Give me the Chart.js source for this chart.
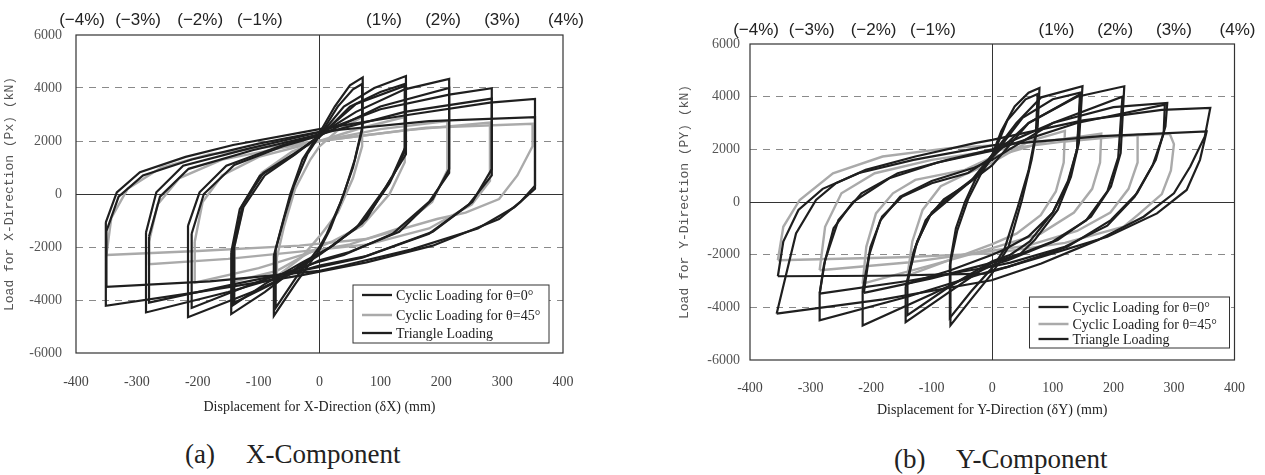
<!DOCTYPE html>
<html>
<head>
<meta charset="utf-8">
<script src="https://cdn.jsdelivr.net/npm/chart.js@4.4.0/dist/chart.umd.min.js"></script>
<style>
  body { margin: 0; background: #fff; width: 1265px; height: 475px; overflow: hidden; position: relative; }
  .box { position: absolute; top: 0; }
  #boxA { left: 0; }
  #boxB { left: 650px; }
  .cap { position: absolute; font-family: "Liberation Serif", serif; font-size: 27px; line-height: 27px; color: #222; white-space: pre; }
</style>
</head>
<body>
<div class="box" id="boxA"><canvas id="chartA" width="600" height="430"></canvas></div>
<div class="box" id="boxB"><canvas id="chartB" width="615" height="430"></canvas></div>
<div class="cap" style="left:185px;top:441px">(a)</div>
<div class="cap" style="left:246px;top:441px">X-Component</div>
<div class="cap" style="left:894px;top:446px">(b)</div>
<div class="cap" style="left:956px;top:446px">Y-Component</div>
<script>
// axis ranges
var xMin = -400, xMax = 400, xStep = 100;
var yMin = -6000, yMax = 6000, yStep = 2000;

// drift ratio labels along the top
var driftLabels = ['(−4%)', '(−3%)', '(−2%)', '(−1%)', '(1%)', '(2%)', '(3%)', '(4%)'];
var driftPos = [-390, -298, -196, -98, 106, 203, 300, 405];

var seriesNames = ['Cyclic Loading for θ=0°', 'Cyclic Loading for θ=45°', 'Triangle Loading'];

// ---- X-component, [displacement mm, load kN] per loop ----
var xCyclic0 = [
  [[-75,-2330],[-62,-1200],[-48,0],[-28,1300],[0,2300],[25,3300],[50,4100],[71,4400],[71,2600],[58,1300],[40,0],[18,-1300],[0,-2100],[-40,-3400],[-75,-4600],[-75,-2330]],
  [[-72,-2100],[-58,-900],[-42,300],[-20,1500],[0,2200],[30,3300],[55,3950],[70,4150],[70,2400],[55,1000],[35,-300],[12,-1500],[0,-2000],[-40,-3200],[-72,-4300],[-72,-2100]],
  [[-145,-2200],[-131,-570],[-98,690],[-44,1450],[0,2200],[40,3300],[90,4000],[142,4450],[142,1820],[120,690],[77,-943],[22,-1950],[-33,-2700],[-90,-3700],[-145,-4530],[-145,-2200]],
  [[-142,-2000],[-126,-400],[-92,800],[-40,1550],[0,2150],[50,3300],[100,3850],[140,4150],[140,1600],[115,400],[70,-1100],[15,-2050],[-30,-2600],[-90,-3400],[-142,-4200],[-142,-2000]],
  [[-216,-1200],[-197,63],[-153,1069],[-60,1849],[0,2250],[60,3100],[140,3950],[213,4340],[213,940],[186,-190],[131,-1430],[49,-2190],[0,-2500],[-100,-3600],[-216,-4650],[-216,-1200]],
  [[-285,-1450],[-268,63],[-224,1069],[-115,1723],[0,2330],[100,3200],[213,3750],[283,3990],[283,940],[251,-300],[186,-1430],[77,-2340],[0,-2700],[-150,-3700],[-285,-4470],[-285,-1450]],
  [[-351,-1070],[-333,63],[-295,820],[-220,1400],[-142,1850],[0,2450],[150,3000],[280,3450],[354,3585],[354,314],[330,-300],[295,-943],[186,-1950],[77,-2580],[-33,-3080],[-200,-3700],[-351,-4220],[-351,-1070]]
];
var xTriangle = [
  [[-140,-2000],[-125,-500],[-90,700],[-40,1500],[0,2200],[60,3400],[142,4100],[142,1500],[110,300],[60,-1300],[0,-2300],[-70,-3300],[-140,-4100],[-140,-2000]],
  [[-210,-1500],[-190,0],[-140,1100],[-60,1800],[0,2200],[100,3300],[213,4000],[213,800],[180,-300],[120,-1500],[40,-2300],[0,-2550],[-100,-3300],[-210,-4300],[-210,-1500]],
  [[-280,-1600],[-262,-100],[-215,950],[-110,1650],[0,2250],[140,3100],[283,3600],[283,700],[245,-400],[180,-1500],[70,-2400],[0,-2750],[-140,-3400],[-280,-4100],[-280,-1600]],
  [[-350,-1400],[-330,-100],[-290,700],[-210,1300],[-100,1900],[0,2350],[180,2750],[354,2900],[354,200],[320,-500],[260,-1300],[150,-2100],[40,-2700],[0,-2900],[-180,-3300],[-350,-3500],[-350,-1400]]
];
var xCyclic45 = [
  [[-70,-2400],[-58,-1200],[-40,200],[-15,1300],[0,1800],[30,2400],[70,2900],[70,1800],[55,600],[30,-700],[0,-1600],[-30,-2400],[-70,-3100],[-70,-2400]],
  [[-140,-2000],[-125,-400],[-95,800],[-45,1600],[0,2000],[70,2500],[140,2900],[140,1200],[115,0],[70,-1200],[20,-1800],[0,-2000],[-70,-2900],[-140,-3300],[-140,-2000]],
  [[-205,-1800],[-192,-300],[-160,700],[-100,1400],[0,2000],[100,2450],[210,2750],[210,900],[185,-300],[130,-1300],[50,-1900],[0,-2100],[-100,-2800],[-205,-3350],[-205,-1800]],
  [[-280,-1800],[-266,-400],[-230,600],[-160,1300],[-60,1750],[0,2000],[140,2400],[280,2700],[280,500],[250,-400],[180,-1300],[80,-1900],[0,-2100],[-150,-2450],[-280,-2650],[-280,-1800]],
  [[-350,-2300],[-342,-900],[-315,200],[-260,1000],[-180,1500],[-60,1850],[0,2000],[175,2500],[350,2650],[350,1800],[325,700],[295,-190],[240,-700],[193,-943],[77,-1700],[-33,-1950],[-200,-2150],[-350,-2300]]
];

// ---- Y-component ----
var yCyclic0 = [
  [[-69,-2200],[-60,-1000],[-45,0],[-25,1000],[0,1800],[15,2700],[37,3632],[60,4150],[78,4330],[75,2870],[65,1600],[49,76],[27,-1702],[0,-2700],[-35,-3700],[-69,-4687],[-69,-2200]],
  [[-70,-2400],[-58,-1100],[-40,100],[-18,1100],[0,1700],[25,3100],[55,3900],[75,4100],[72,2600],[60,1200],[42,-200],[20,-1800],[0,-2500],[-35,-3400],[-70,-4400],[-70,-2400]],
  [[-143,-3226],[-127,-1702],[-105,-559],[-72,76],[-35,800],[0,1800],[40,3000],[81,3975],[149,4395],[143,2235],[130,965],[108,-305],[70,-1448],[47,-1956],[0,-2300],[-70,-3400],[-143,-4560],[-143,-3226]],
  [[-140,-3000],[-124,-1500],[-100,-400],[-65,300],[-25,1000],[0,1700],[50,3200],[100,3900],[145,4150],[140,2000],[125,800],[100,-400],[62,-1500],[30,-2000],[0,-2250],[-70,-3200],[-140,-4300],[-140,-3000]],
  [[-214,-3353],[-201,-1702],[-182,-559],[-149,203],[-100,711],[-40,1100],[0,1700],[60,3000],[140,4000],[218,4395],[212,1854],[196,584],[163,-559],[108,-1448],[26,-2210],[0,-2400],[-100,-3500],[-214,-4687],[-214,-3353]],
  [[-285,-3480],[-276,-2210],[-254,-686],[-216,330],[-156,1092],[-74,1600],[0,2000],[100,3000],[200,3600],[289,3759],[286,2870],[270,1600],[239,330],[196,-686],[124,-1702],[26,-2464],[0,-2600],[-140,-3600],[-285,-4496],[-285,-3480]],
  [[-356,-4242],[-340,-2717],[-324,-1194],[-291,76],[-258,711],[-209,1219],[-127,1727],[-29,2235],[0,2360],[150,3100],[280,3500],[360,3569],[351,2489],[327,1346],[300,330],[250,-559],[174,-1448],[81,-2337],[-1,-2972],[-180,-3700],[-356,-4242]]
];
var yTriangle = [
  [[-140,-3100],[-130,-1900],[-110,-700],[-80,100],[-40,700],[0,1400],[60,3000],[146,4100],[140,2000],[125,700],[100,-400],[60,-1300],[20,-1800],[0,-2000],[-70,-2600],[-140,-3100]],
  [[-212,-3453],[-203,-2000],[-185,-700],[-152,200],[-100,800],[-30,1300],[0,1600],[100,3000],[215,4000],[208,1700],[190,400],[155,-700],[100,-1500],[20,-2200],[0,-2300],[-100,-2900],[-212,-3453]],
  [[-285,-3480],[-278,-2400],[-262,-1000],[-230,0],[-170,900],[-90,1500],[0,1950],[140,3000],[285,3700],[283,2600],[265,1400],[235,200],[190,-900],[120,-1700],[30,-2300],[0,-2450],[-140,-3000],[-285,-3480]],
  [[-354,-2819],[-345,-1500],[-320,-300],[-280,500],[-220,1100],[-130,1600],[0,2150],[180,2500],[354,2680],[343,1600],[321,457],[272,-432],[190,-1321],[81,-2083],[-12,-2718],[-180,-2800],[-354,-2819]]
];
var yCyclic45 = [
  [[-140,-2800],[-132,-1500],[-115,-300],[-85,600],[-40,1100],[0,1500],[60,2300],[120,2700],[118,1500],[105,400],[80,-500],[40,-1200],[0,-1600],[-70,-2200],[-140,-2800]],
  [[-214,-3100],[-208,-1702],[-192,-432],[-164,330],[-127,838],[-45,1219],[0,1700],[90,2300],[180,2600],[178,1500],[165,500],[135,-400],[80,-1200],[0,-1750],[-100,-2400],[-214,-3100]],
  [[-285,-2591],[-276,-940],[-249,330],[-194,1092],[-100,1600],[0,1950],[120,2300],[240,2550],[240,1500],[225,500],[195,-400],[140,-1100],[60,-1650],[0,-1850],[-140,-2300],[-285,-2591]],
  [[-354,-2210],[-345,-940],[-318,76],[-263,1092],[-181,1727],[-72,2045],[0,2150],[150,2450],[293,2590],[300,2200],[295,1200],[280,300],[240,-500],[217,-940],[120,-1550],[0,-1950],[-150,-2100],[-354,-2210]]
];

var black = '#1f1f1f';
var gray = '#aaaaaa';

function loopSets(loops, label, color, width) {
  return loops.map(function(loop) {
    return {
      label: label,
      data: loop.map(function(p) { return { x: p[0], y: p[1] }; }),
      showLine: true,
      borderColor: color,
      borderWidth: width,
      pointRadius: 0,
      fill: false,
      tension: 0
    };
  });
}

// frame, drift labels and the boxed legend
var extras = {
  id: 'extras',
  afterDraw: function(chart, args, o) {
    var ctx = chart.ctx, a = chart.chartArea, sx = chart.scales.x;
    ctx.save();
    ctx.strokeStyle = '#333';
    ctx.lineWidth = 1.2;
    ctx.strokeRect(a.left, a.top, a.right - a.left, a.bottom - a.top);

    ctx.fillStyle = '#222';
    ctx.font = '17px "Liberation Sans"';
    ctx.textAlign = 'center';
    ctx.textBaseline = 'middle';
    driftLabels.forEach(function(t, i) {
      ctx.fillText(t, sx.getPixelForValue(driftPos[i]), o.driftY);
    });

    var lx = a.right - o.legRight - o.legW, ly = a.bottom - o.legBottom - o.legH;
    ctx.fillStyle = '#fff';
    ctx.fillRect(lx, ly, o.legW, o.legH);
    ctx.lineWidth = 1;
    ctx.strokeStyle = '#333';
    ctx.strokeRect(lx, ly, o.legW, o.legH);
    var cols = [black, gray, black];
    ctx.font = '14px "Liberation Serif"';
    ctx.textAlign = 'left';
    seriesNames.forEach(function(name, i) {
      var yy = ly + o.rows[i];
      ctx.strokeStyle = cols[i];
      ctx.lineWidth = i === 1 ? 2.5 : 2.3;
      ctx.beginPath();
      ctx.moveTo(lx + 9, yy);
      ctx.lineTo(lx + 39, yy);
      ctx.stroke();
      ctx.fillStyle = '#222';
      ctx.fillText(name, lx + 43, yy + 1);
    });
    ctx.restore();
  }
};

function makeChart(id, c0, tri, c45, xTitle, yTitle, lay) {
  var datasets = []
    .concat(loopSets(c0, seriesNames[0], black, 2.2))
    .concat(loopSets(tri, seriesNames[2], black, 2.2))
    .concat(loopSets(c45, seriesNames[1], gray, 2.4));

  return new Chart(document.getElementById(id).getContext('2d'), {
    type: 'scatter',
    data: { datasets: datasets },
    plugins: [extras],
    options: {
      responsive: false,
      animation: false,
      layout: { padding: { left: 0, top: lay.top, right: lay.right, bottom: 0 } },
      plugins: {
        legend: { display: false },
        tooltip: { enabled: false },
        extras: lay.extras
      },
      scales: {
        x: {
          type: 'linear', min: xMin, max: xMax,
          afterFit: function(s) { s.height = lay.xH; },
          ticks: { stepSize: xStep, padding: lay.xPad, color: '#444',
                   font: { family: 'Liberation Serif', size: 14 },
                   callback: function(v) { return String(v); } },
          grid: { drawTicks: false, lineWidth: 1,
                  color: function(c) { return c.tick && c.tick.value === 0 ? '#333' : 'rgba(0,0,0,0)'; } },
          border: { display: false },
          title: { display: true, text: xTitle, color: '#222',
                   font: { family: 'Liberation Serif', size: 14 },
                   padding: { top: 0, bottom: lay.xTitleBottom } }
        },
        y: {
          min: yMin, max: yMax,
          afterFit: function(s) { s.width = lay.yW; },
          ticks: { stepSize: yStep, padding: lay.yPad, color: '#555',
                   font: { family: 'Liberation Serif', size: 14 },
                   callback: function(v) { return String(v); } },
          grid: { drawTicks: false, lineWidth: 1,
                  color: function(c) {
                    if (!c.tick) return 'rgba(0,0,0,0)';
                    if (c.tick.value === 0) return '#333';
                    return Math.abs(c.tick.value) === 6000 ? 'rgba(0,0,0,0)' : '#8a8a8a';
                  } },
          border: { display: false,
                    dash: function(c) { return c.tick && c.tick.value !== 0 ? [7, 6] : []; } },
          title: { display: true, text: yTitle, color: '#555',
                   font: { family: 'Liberation Mono', size: 13 },
                   padding: { top: lay.yTitleTop, bottom: 0 } }
        }
      }
    }
  });
}

makeChart('chartA', xCyclic0, xTriangle, xCyclic45,
  'Displacement for X-Direction (δX) (mm)', 'Load for X-Direction (Px) (kN)',
  { top: 35, right: 37, xH: 77, yW: 76, xPad: 21, yPad: 14, xTitleBottom: 14, yTitleTop: 2,
    extras: { driftY: 20, legRight: 14, legBottom: 10, legW: 196, legH: 58, rows: [10, 30, 48] } });

makeChart('chartB', yCyclic0, yTriangle, yCyclic45,
  'Displacement for Y-Direction (δY) (mm)', 'Load for Y-Direction (PY) (kN)',
  { top: 44, right: 27, xH: 70, yW: 100, xPad: 20, yPad: 10, xTitleBottom: 11, yTitleTop: 27,
    extras: { driftY: 30, legRight: 5, legBottom: 12, legW: 200, legH: 51, rows: [10, 27, 42] } });
</script>
</body>
</html>
